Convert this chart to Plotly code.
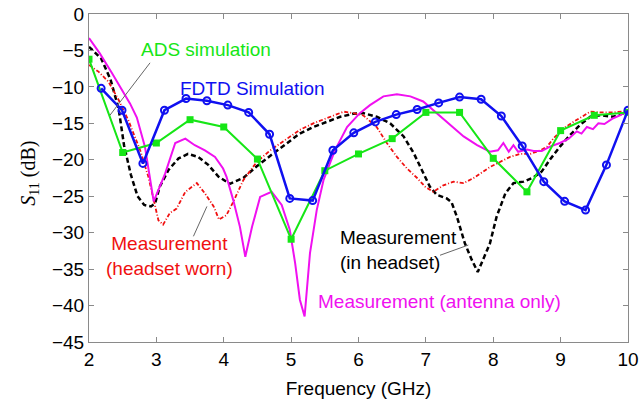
import plotly.graph_objects as go

# ---------------- data ----------------
fdtd_f = [2.18, 2.49, 2.80, 3.12, 3.44, 3.75, 4.06, 4.37, 4.68, 4.98, 5.32, 5.62, 5.93,
          6.25, 6.56, 6.87, 7.19, 7.50, 7.82, 8.12, 8.43, 8.75, 9.06, 9.37, 9.68, 10.0]
fdtd_db = [-10.2, -13.2, -20.5, -13.2, -11.6, -11.9, -12.5, -13.5, -16.5, -25.3, -25.6, -18.7, -16.3,
           -14.8, -13.8, -13.1, -12.2, -11.4, -11.7, -14.0, -18.1, -23.0, -25.7, -26.9, -20.7, -13.2]

ads_f = [2.0, 2.5, 3.0, 3.5, 4.0, 4.5, 5.0, 5.5, 6.0, 6.5, 7.0, 7.5, 8.0, 8.5, 9.0, 9.5, 10.0]
ads_db = [-6.2, -19.0, -17.7, -14.5, -15.5, -19.9, -30.9, -21.5, -19.2, -17.1, -13.5, -13.5,
          -19.8, -24.4, -16.0, -13.9, -13.5]

ant_f = [2.0, 2.16, 2.34, 2.49, 2.61, 2.71, 2.83, 2.96, 3.13, 3.28, 3.43, 3.57, 3.72, 3.87, 3.99,
         4.04, 4.14, 4.24, 4.32, 4.42, 4.54, 4.71, 4.86, 4.98, 5.06, 5.13, 5.20, 5.28, 5.38, 5.48,
         5.60, 5.65, 5.83, 6.02, 6.17, 6.37, 6.57, 6.77, 6.96, 7.16, 7.36, 7.56, 7.76, 7.95, 8.07,
         8.15, 8.23, 8.30, 8.37, 8.50, 8.60, 8.72, 8.84, 8.99, 9.12, 9.24, 9.31, 9.39, 9.48, 9.56,
         9.65, 9.78, 9.88, 10.0]
ant_db = [-3.3, -5.4, -8.1, -10.5, -12.3, -14.2, -18.2, -25.7, -21.9, -17.7, -17.1, -18.0, -18.7,
          -19.6, -21.2, -22.3, -25.5, -29.2, -33.3, -29.2, -25.1, -24.4, -26.2, -29.6, -34.2, -39.2,
          -41.5, -32.8, -26.9, -22.8, -20.0, -18.7, -15.5, -13.6, -12.5, -11.3, -11.0, -11.3, -12.0,
          -13.6, -15.2, -16.8, -18.0, -18.9, -18.7, -17.7, -18.9, -18.0, -18.9, -18.6, -18.8, -18.8,
          -18.2, -17.7, -17.1, -16.1, -16.4, -15.5, -15.8, -15.0, -15.1, -14.3, -13.9, -13.2]

head_f = [2.0, 2.18, 2.32, 2.44, 2.52, 2.62, 2.72, 2.82, 2.92, 2.98, 3.05, 3.18, 3.33, 3.47, 3.62,
          3.77, 3.92, 4.09, 4.29, 4.49, 4.74, 4.94, 5.13, 5.33, 5.53, 5.73, 5.92, 6.07, 6.27, 6.47,
          6.67, 6.82, 6.94, 7.06, 7.16, 7.31, 7.38, 7.46, 7.58, 7.68, 7.77, 7.85, 7.95, 8.05, 8.18,
          8.30, 8.45, 8.60, 8.72, 8.84, 8.99, 9.14, 9.29, 9.44, 9.59, 9.78, 10.0]
head_db = [-4.5, -6.1, -9.0, -13.0, -18.0, -22.0, -25.0, -26.2, -26.4, -26.0, -23.7, -21.4, -19.8,
           -19.2, -19.6, -20.7, -22.3, -23.3, -22.5, -20.9, -19.1, -17.7, -16.4, -15.5, -14.8, -14.1,
           -13.7, -13.6, -14.1, -15.0, -16.8, -19.1, -21.4, -23.7, -24.8, -25.3, -25.8, -27.8, -31.5,
           -33.7, -35.4, -33.7, -31.5, -27.8, -24.6, -23.2, -23.0, -22.4, -21.6, -20.0, -18.2, -16.6,
           -15.2, -14.1, -13.9, -14.1, -13.4]

worn_f = [2.0, 2.14, 2.29, 2.44, 2.58, 2.76, 2.88, 2.96, 3.03, 3.10, 3.20, 3.30, 3.43, 3.60, 3.72,
          3.85, 3.93, 4.04, 4.14, 4.29, 4.49, 4.69, 4.94, 5.13, 5.33, 5.53, 5.78, 5.92, 6.07, 6.27,
          6.42, 6.57, 6.72, 6.87, 6.99, 7.11, 7.26, 7.41, 7.56, 7.71, 7.85, 7.95, 8.10, 8.25, 8.40,
          8.55, 8.70, 8.80, 8.89, 9.04, 9.19, 9.34, 9.44, 9.60, 9.78, 10.0]
worn_db = [-7.0, -7.9, -9.3, -11.8, -14.5, -18.7, -22.3, -25.5, -28.3, -28.9, -27.3, -26.7, -24.4,
           -23.2, -24.6, -26.4, -28.2, -27.6, -25.8, -22.8, -20.3, -18.7, -17.1, -15.9, -15.0, -14.3,
           -13.4, -13.6, -13.9, -15.5, -17.7, -19.6, -21.2, -22.5, -23.7, -24.4, -23.5, -23.0, -23.2,
           -22.5, -21.6, -21.0, -20.3, -19.6, -19.2, -19.2, -18.7, -18.2, -17.1, -15.7, -14.8, -13.9,
           -13.4, -13.5, -13.5, -13.3]

x_ticks = [2, 3, 4, 5, 6, 7, 8, 9, 10]
y_ticks = [0, -5, -10, -15, -20, -25, -30, -35, -40, -45]

# ---------------- styles ----------------
BLUE = "#1010f0"
GREEN = "#16e616"
MAGENTA = "#f010f0"
RED = "#f01010"
FONT = "Liberation Sans, Arial, sans-serif"

fig = go.Figure()
fig.add_trace(go.Scatter(x=head_f, y=head_db, mode="lines",
                         line=dict(color="black", width=2.5, dash="5px,3px")))
fig.add_trace(go.Scatter(x=worn_f, y=worn_db, mode="lines",
                         line=dict(color=RED, width=1.8, dash="4px,2px,1px,2px")))
fig.add_trace(go.Scatter(x=ant_f, y=ant_db, mode="lines",
                         line=dict(color=MAGENTA, width=2)))
fig.add_trace(go.Scatter(x=ads_f, y=ads_db, mode="lines+markers",
                         line=dict(color=GREEN, width=2),
                         marker=dict(symbol="square", size=7, color=GREEN)))
fig.add_trace(go.Scatter(x=fdtd_f, y=fdtd_db, mode="lines+markers",
                         line=dict(color=BLUE, width=2.5),
                         marker=dict(symbol="circle-open", size=7, color=BLUE,
                                     line=dict(width=2, color=BLUE))))

ann_font = 19
annotations = [
    dict(x=3.74, y=-4.9, text="ADS simulation", font=dict(color=GREEN, size=ann_font)),
    dict(x=4.42, y=-10.2, text="FDTD Simulation", font=dict(color=BLUE, size=ann_font)),
    dict(x=3.20, y=-33.2, text="Measurement<br>(headset worn)", font=dict(color=RED, size=ann_font)),
    dict(x=5.70, y=-32.4, text="Measurement<br>(in headset)", xanchor="left", align="left",
         font=dict(color="black", size=ann_font)),
    dict(x=5.37, y=-39.5, text="Measurement (antenna only)", xanchor="left",
         font=dict(color=MAGENTA, size=ann_font)),
]
for a in annotations:
    a.update(xref="x", yref="y", showarrow=False)
    a["font"]["family"] = FONT
    a.setdefault("xanchor", "center")
    a.setdefault("align", "center")
    a["yanchor"] = "middle"

annotations.append(dict(xref="paper", yref="paper", x=-0.112, y=0.515, showarrow=False,
                        xanchor="center", yanchor="middle",
                        text="<i>S</i><sub>11</sub> (dB)", textangle=-90,
                        font=dict(family="Liberation Serif, Times New Roman, serif", size=20,
                                  color="black")))

shapes = []
for (x0, y0, x1, y1) in [(2.906, -6.7, 2.31, -13.9), (3.75, -26.4, 3.55, -30.5),
                         (7.21, -33.1, 7.63, -31.7)]:
    shapes.append(dict(type="line", xref="x", yref="y", x0=x0, y0=y0, x1=x1, y1=y1,
                       line=dict(color="#666666", width=1)))

axis_common = dict(showline=True, mirror="ticks", ticks="inside", ticklen=5,
                   linecolor="#8a8a8a", tickcolor="#8a8a8a", linewidth=1, showgrid=False,
                   zeroline=False, automargin=False,
                   tickfont=dict(family=FONT, size=19, color="black"))

fig.update_layout(
    width=639, height=405, margin=dict(l=89, r=11, t=14, b=63, autoexpand=False),
    paper_bgcolor="white", plot_bgcolor="white", showlegend=False,
    annotations=annotations, shapes=shapes,
    xaxis=dict(range=[2, 10], tickvals=x_ticks, ticktext=[str(v) for v in x_ticks],
               title=dict(text="Frequency (GHz)", font=dict(family=FONT, size=19, color="black"),
                          standoff=12),
               **axis_common),
    yaxis=dict(range=[-45, 0], tickvals=y_ticks, **axis_common),
)

fig.write_html("out.html")
